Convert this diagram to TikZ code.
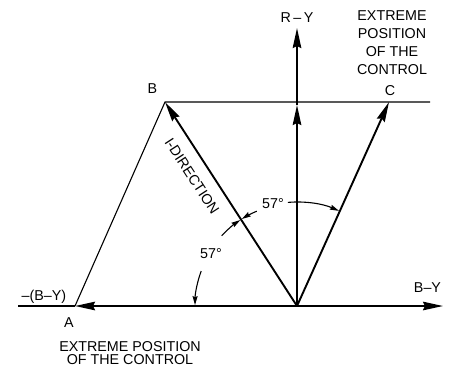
\documentclass[tikz,border=0pt]{standalone}
\usepackage{fontspec}
\setmainfont{Liberation Sans}
\usetikzlibrary{arrows.meta,calc}
\begin{document}
\begin{tikzpicture}[x=1bp,y=-1bp,
  heavy/.style={line width=1.9bp},
  hair/.style={line width=1.1bp},
  big/.style={-{Stealth[length=20bp,width=8.5bp,inset=2bp]}},
  small/.style={-{Stealth[length=9bp,width=5bp,inset=1bp]}},
  lbl/.style={font=\fontsize{14.3bp}{18.3bp}\selectfont, inner sep=0pt}]
\useasboundingbox (0,0) rectangle (449,368);
% points
\coordinate (O) at (297,306);
\coordinate (A) at (75,306);
\coordinate (B) at (165,102);
\coordinate (C) at (389,102);
\coordinate (Xl) at (18,306);
\coordinate (Xr) at (443,306);
\coordinate (M) at (297,105);
\coordinate (RY) at (297,28);
\coordinate (BCend) at (430,102);
% thin lines
\draw[hair] (A) -- (B) -- (BCend);
% axes
\draw[heavy,big] (O) -- (Xr);
\draw[heavy,big] (O) -- (A);
\draw[heavy] (A) -- (Xl);
\draw[heavy,big] (O) -- (M);
\draw[heavy,big] (M) -- (RY);
\draw[heavy,big] (O) -- (B);
\draw[heavy,big] (O) -- (C);
% angle arrows
\draw[hair,small] ($(O)+(-95:104)$) arc[start angle=-95,end angle=-66.2,radius=104];
\draw[hair,small] ($(O)+(-113:103)$) arc[start angle=-113,end angle=-122.4,radius=103];
\draw[hair,small] ($(O)+(-137:103)$) arc[start angle=-137,end angle=-123.4,radius=103];
\draw[hair,small] ($(O)+(-160:102)$) arc[start angle=-160,end angle=-179.5,radius=102];
% labels
\node[lbl,anchor=base] (lRY) at (297,22) {R\,--\,Y};
\node[lbl,anchor=base] (lB) at (152.5,93) {B};
\node[lbl,anchor=base] (lC) at (390,95) {C};
\node[lbl,anchor=base] (lBY) at (427.5,292) {B--Y};
\node[lbl,anchor=base] (lmBY) at (44,300) {--(B--Y)};
\node[lbl,anchor=base] (lA) at (69,327) {A};
\node[lbl,anchor=base] (a1) at (273,208) {57°};
\node[lbl,anchor=base] (a2) at (211,258) {57°};
\node[lbl,align=center,anchor=north] (ext1) at (392,10) {EXTREME\\POSITION\\OF THE\\CONTROL};
\node[lbl,align=center,anchor=north,font=\fontsize{14.3bp}{13.6bp}\selectfont] (ext2) at (130,341) {EXTREME POSITION\\OF THE CONTROL};
\node[lbl,rotate=-57] (idir) at (192,176) {I-DIRECTION};
\end{tikzpicture}
\end{document}
